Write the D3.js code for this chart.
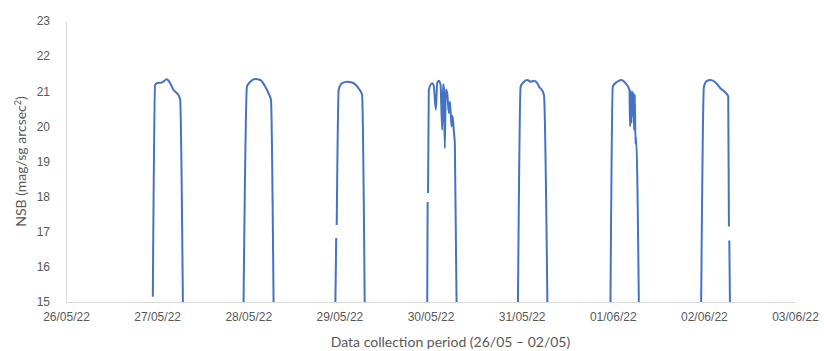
<!DOCTYPE html>
<html>
<head>
<meta charset="utf-8">
<script src="https://cdn.jsdelivr.net/npm/d3@7/dist/d3.min.js"></script>
<style>
  body { margin: 0; background: #fff; }
  svg { display: block; font-family: Lato, 'Open Sans', sans-serif; }
  .tick text { fill: #595959; font-size: 12px; }
  .axisTitle { fill: #595959; font-size: 14px; }
</style>
</head>
<body>
<svg width="824" height="351"></svg>
<script>
// One array per night: [time, NSB]. null marks a missing reading (gap in the line).
const night1 = [
  ['26/05/22 22:52', 15.15], ['26/05/22 23:28', 21.18], ['26/05/22 23:55', 21.23],
  ['27/05/22 01:14', 21.25], ['27/05/22 02:33', 21.34], ['27/05/22 03:26', 21.23],
  ['27/05/22 04:18', 21.04], ['27/05/22 05:37', 20.89], ['27/05/22 06:04', 20.75],
  ['27/05/22 06:47', 15.0]
];
const night2 = [
  ['27/05/22 22:46', 15.0], ['27/05/22 23:39', 21.13], ['28/05/22 00:32', 21.27],
  ['28/05/22 01:51', 21.35], ['28/05/22 03:10', 21.32], ['28/05/22 04:29', 21.13],
  ['28/05/22 05:21', 20.94], ['28/05/22 05:59', 20.75], ['28/05/22 06:40', 15.0]
];
const night3 = [
  ['28/05/22 22:57', 15.0], ['28/05/22 23:10', 16.82], ['28/05/22 23:14', null],
  ['28/05/22 23:18', 17.19], ['28/05/22 23:49', 21.04], ['29/05/22 00:43', 21.23],
  ['29/05/22 02:02', 21.27], ['29/05/22 03:21', 21.25], ['29/05/22 05:05', 21.08],
  ['29/05/22 05:59', 20.89], ['29/05/22 06:40', 15.0]
];
const night4 = [
  ['29/05/22 23:08', 15.0], ['29/05/22 23:15', 17.85], ['29/05/22 23:18', null],
  ['29/05/22 23:21', 18.1], ['29/05/22 23:33', 21.04], ['30/05/22 00:27', 21.23],
  ['30/05/22 00:52', 21.15], ['30/05/22 01:24', 20.47], ['30/05/22 01:46', 21.23],
  ['30/05/22 02:11', 21.3], ['30/05/22 02:38', 21.2], ['30/05/22 03:05', 19.9],
  ['30/05/22 03:18', 21.2], ['30/05/22 03:31', 21.1], ['30/05/22 03:46', 19.38],
  ['30/05/22 04:02', 21.05], ['30/05/22 04:24', 20.95], ['30/05/22 04:50', 20.38],
  ['30/05/22 05:08', 20.7], ['30/05/22 05:32', 20.0], ['30/05/22 05:48', 20.3],
  ['30/05/22 06:09', 19.85], ['30/05/22 06:25', 19.5], ['30/05/22 06:52', 15.0]
];
const night5 = [
  ['30/05/22 23:02', 15.0], ['30/05/22 23:44', 21.13], ['31/05/22 00:37', 21.27],
  ['31/05/22 01:30', 21.32], ['31/05/22 02:23', 21.27], ['31/05/22 03:15', 21.3],
  ['31/05/22 04:08', 21.23], ['31/05/22 04:34', 21.13], ['31/05/22 05:01', 21.08],
  ['31/05/22 05:53', 20.9], ['31/05/22 06:47', 15.0]
];
const night6 = [
  ['31/05/22 23:24', 15.0], ['01/06/22 00:00', 21.13], ['01/06/22 01:08', 21.27],
  ['01/06/22 02:18', 21.32], ['01/06/22 03:21', 21.23], ['01/06/22 04:24', 21.04],
  ['01/06/22 04:34', 20.0], ['01/06/22 04:45', 21.0], ['01/06/22 04:56', 20.1],
  ['01/06/22 05:05', 21.0], ['01/06/22 05:17', 20.3], ['01/06/22 05:28', 20.95],
  ['01/06/22 05:37', 19.9], ['01/06/22 05:49', 20.9], ['01/06/22 05:59', 19.5],
  ['01/06/22 06:09', 19.7], ['01/06/22 06:52', 15.0]
];
const night7 = [
  ['01/06/22 23:17', 15.0], ['02/06/22 00:00', 21.13], ['02/06/22 00:52', 21.3],
  ['02/06/22 01:46', 21.32], ['02/06/22 03:05', 21.25], ['02/06/22 04:25', 21.08],
  ['02/06/22 05:53', 20.94], ['02/06/22 06:25', 20.85], ['02/06/22 06:36', 17.15],
  ['02/06/22 06:39', null], ['02/06/22 06:42', 16.75], ['02/06/22 06:52', 15.0]
];
const nights = [night1, night2, night3, night4, night5, night6, night7];

const xTickLabels = ['26/05/22', '27/05/22', '28/05/22', '29/05/22', '30/05/22',
  '31/05/22', '01/06/22', '02/06/22', '03/06/22'];
const yTicks = [15, 16, 17, 18, 19, 20, 21, 22, 23];

const svg = d3.select('svg');
const margin = {top: 21, right: 29, bottom: 49, left: 66};
const width = +svg.attr('width');
const height = +svg.attr('height');

const parseTime = d3.timeParse('%d/%m/%y %H:%M');
const parseDay = d3.timeParse('%d/%m/%y');
const dayTicks = xTickLabels.map(parseDay);

const x = d3.scaleTime()
  .domain(d3.extent(dayTicks))
  .range([margin.left, width - margin.right]);
const y = d3.scaleLinear()
  .domain(d3.extent(yTicks))
  .range([height - margin.bottom, margin.top]);

const xAxis = d3.axisBottom(x)
  .tickValues(dayTicks)
  .tickFormat(d3.timeFormat('%d/%m/%y'))
  .tickSize(0)
  .tickPadding(10);
const yAxis = d3.axisLeft(y)
  .tickValues(yTicks)
  .tickSize(0)
  .tickPadding(16);

svg.append('g')
  .attr('transform', `translate(0,${height - margin.bottom})`)
  .call(xAxis)
  .call((g) => g.select('.domain').attr('stroke', '#d9d9d9'));

svg.append('g')
  .attr('transform', `translate(${margin.left},0)`)
  .call(yAxis)
  .call((g) => g.select('.domain').attr('stroke', '#d9d9d9'));

const line = d3.line()
  .defined((d) => d[1] !== null)
  .x((d) => x(parseTime(d[0])))
  .y((d) => y(d[1]))
  .curve(d3.curveMonotoneX);

svg.selectAll('path.night')
  .data(nights)
  .enter()
  .append('path')
  .attr('class', 'night')
  .attr('d', line)
  .attr('fill', 'none')
  .attr('stroke', '#4472c4')
  .attr('stroke-width', 2)
  .attr('stroke-linejoin', 'round');

svg.append('text')
  .attr('class', 'axisTitle')
  .attr('x', (margin.left + width - margin.right) / 2 + 20)
  .attr('y', height - 4)
  .attr('text-anchor', 'middle')
  .text('Data collection period (26/05 \u2013 02/05)');

const yTitle = svg.append('text')
  .attr('class', 'axisTitle')
  .attr('transform', `translate(26,${(margin.top + height - margin.bottom) / 2}) rotate(-90)`)
  .attr('text-anchor', 'middle');
yTitle.append('tspan').text('NSB (mag/sg arcsec');
yTitle.append('tspan').attr('baseline-shift', 'super').attr('font-size', '9px').text('2');
yTitle.append('tspan').text(')');
</script>
</body>
</html>
